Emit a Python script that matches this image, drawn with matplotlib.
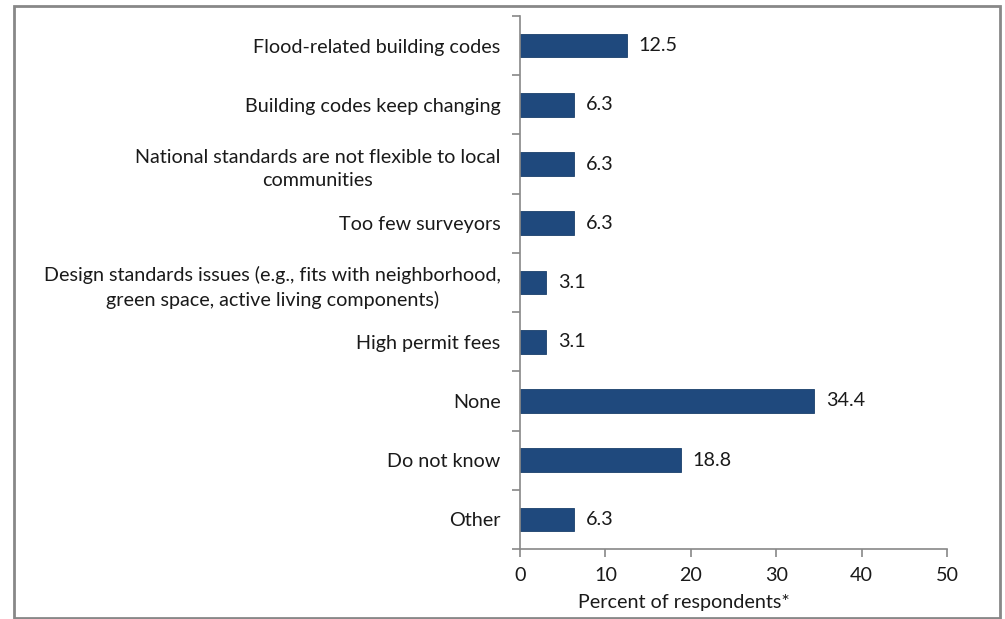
import numpy as np
import matplotlib.pyplot as plt
from matplotlib.patches import Rectangle

plt.rcParams['font.family'] = ['Lato', 'DejaVu Sans']

# data
categories = [
    'Flood-related building codes',
    'Building codes keep changing',
    'National standards are not flexible to local\ncommunities',
    'Too few surveyors',
    'Design standards issues (e.g., fits with neighborhood,\ngreen space, active living components)',
    'High permit fees',
    'None',
    'Do not know',
    'Other',
]
values = [12.5, 6.3, 6.3, 6.3, 3.1, 3.1, 34.4, 18.8, 6.3]
xticks = [0, 10, 20, 30, 40, 50]

FS = 14.2
TXT = '#1a1a1a'

fig = plt.figure(figsize=(10.05, 6.19), dpi=100)
ax = fig.add_axes([0.5174, 0.1131, 0.4249, 0.8610])

y = np.arange(len(categories))
ax.barh(y, values, height=0.4, color='#1F497D', edgecolor='#1A3F6B', linewidth=0.6)
for yi, v in zip(y, values):
    ax.text(v + 1.4, yi, f'{v:.1f}', va='center', ha='left', fontsize=FS, color=TXT)

ax.set_xlim(0, 50)
ax.set_ylim(len(categories) - 0.5, -0.5)
ax.set_xticks(xticks)
ax.set_xticklabels([str(t) for t in xticks], fontsize=FS, color=TXT)
ax.set_xlabel('Percent of respondents*', fontsize=FS, color=TXT)
ax.xaxis.set_label_coords(0.384, -0.085)

# category labels at centres, tick marks between categories
ax.set_yticks(y)
ax.set_yticklabels(categories, fontsize=FS, color=TXT, multialignment='center', linespacing=1.45)
ax.tick_params(axis='y', length=0, pad=14)
ax.set_yticks(np.arange(len(categories) + 1) - 0.5, minor=True)
ax.tick_params(axis='y', which='minor', length=6, color='#888888', width=1.2, direction='out')
ax.tick_params(axis='x', length=6, color='#888888', width=1.2, direction='out', pad=7)

for s in ['top', 'right']:
    ax.spines[s].set_visible(False)
for s in ['left', 'bottom']:
    ax.spines[s].set_color('#888888')
    ax.spines[s].set_linewidth(1.2)

# outer chart border
fig.patches.append(Rectangle((14 / 1005, 1 / 619), 986 / 1005, 612 / 619,
                             transform=fig.transFigure, fill=False,
                             edgecolor='#888888', linewidth=2, zorder=10))

fig.savefig('out.png', dpi=100)
